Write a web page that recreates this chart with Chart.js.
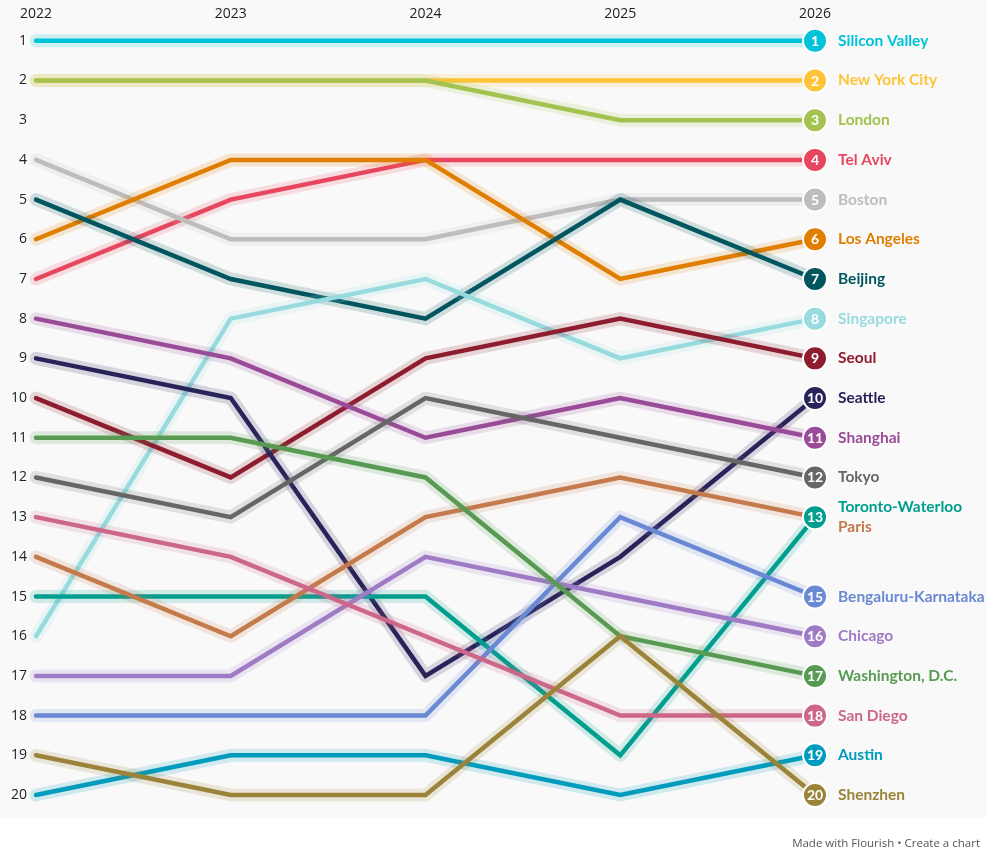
<!DOCTYPE html>
<html lang="en">
<head>
    <meta charset="UTF-8">
    <title>City rankings 2022-2026</title>
    <script src="https://cdn.jsdelivr.net/npm/chart.js"></script>
    <style>
        html, body {
            margin: 0;
            padding: 0;
            background-color: #fff;
            overflow: hidden;
        }

        .chart-wrap {
            position: relative;
            width: 996px;
            height: 852px;
        }

        .footer {
            position: absolute;
            right: 16px;
            top: 835px;
            font-family: 'Open Sans', sans-serif;
            font-size: 11.5px;
            color: #555;
        }
    </style>
</head>
<body>

    <div class="chart-wrap">
        <canvas id="bumpChart" width="996" height="852"></canvas>
        <div class="footer">Made with Flourish &bull; Create a chart</div>
    </div>

    <script>
        // Data
        var years = ['2022', '2023', '2024', '2025', '2026'];

        var cities = ['Silicon Valley', 'New York City', 'London', 'Tel Aviv', 'Boston',
            'Los Angeles', 'Beijing', 'Singapore', 'Seoul', 'Seattle', 'Shanghai', 'Tokyo',
            'Toronto-Waterloo', 'Paris', 'Bengaluru-Karnataka', 'Chicago', 'Washington, D.C.',
            'San Diego', 'Austin', 'Shenzhen'];

        var colors = ['#00c2d8', '#fdc43a', '#a4c250', '#e6475f', '#bdbdbd',
            '#e07e00', '#00555f', '#98dbde', '#8c1c2e', '#28245a', '#9a4b98', '#666666',
            '#009e8f', '#c57a4c', '#6a88d3', '#a07bc5', '#589a52',
            '#cc6789', '#009bbd', '#9c833a'];

        var rank2022 = [1, 2, 2, 7, 4, 6, 5, 16, 10, 9, 8, 12, 15, 14, 18, 17, 11, 13, 20, 19];
        var rank2023 = [1, 2, 2, 5, 6, 4, 7, 8, 12, 10, 9, 13, 15, 16, 18, 17, 11, 14, 19, 20];
        var rank2024 = [1, 2, 2, 4, 6, 4, 8, 7, 9, 17, 11, 10, 15, 13, 18, 14, 12, 16, 19, 20];
        var rank2025 = [1, 2, 3, 4, 5, 7, 5, 9, 8, 14, 10, 11, 19, 12, 13, 15, 16, 18, 20, 16];
        var rank2026 = [1, 2, 3, 4, 5, 6, 7, 8, 9, 10, 11, 12, 13, 13, 15, 16, 17, 18, 19, 20];

        var rankTicks = [1, 2, 3, 4, 5, 6, 7, 8, 9, 10, 11, 12, 13, 14, 15, 16, 17, 18, 19, 20];

        function hexToRgba(hex, a) {
            var r = parseInt(hex.substr(1, 2), 16);
            var g = parseInt(hex.substr(3, 2), 16);
            var b = parseInt(hex.substr(5, 2), 16);
            return 'rgba(' + r + ',' + g + ',' + b + ',' + a + ')';
        }

        // build datasets: a wide pale halo under each coloured line
        var datasets = [];
        var n = cities.length;
        for (var i = 0; i < n; i++) {
            var values = [rank2022[i], rank2023[i], rank2024[i], rank2025[i], rank2026[i]];
            datasets.push({
                label: cities[i] + ' halo',
                data: values,
                borderColor: hexToRgba(colors[i], 0.17),
                borderWidth: 13,
                borderCapStyle: 'round',
                borderJoinStyle: 'round',
                pointRadius: 0,
                tension: 0,
                clip: false,
                order: (n - i) * 2 + 1
            });
            datasets.push({
                label: cities[i],
                data: values,
                borderColor: colors[i],
                borderWidth: 4.5,
                borderCapStyle: 'round',
                borderJoinStyle: 'miter',
                pointRadius: 0,
                tension: 0,
                clip: false,
                order: (n - i) * 2
            });
        }

        // background panel behind the chart
        var panelPlugin = {
            id: 'panel',
            beforeDraw: function(chart) {
                var ctx = chart.ctx;
                ctx.save();
                ctx.fillStyle = '#f9f9f9';
                ctx.fillRect(0, 0, 987, 817);
                ctx.restore();
            }
        };

        // end circles with the final rank and the city names
        var endLabelPlugin = {
            id: 'endLabels',
            afterDatasetsDraw: function(chart) {
                var ctx = chart.ctx;
                var xScale = chart.scales.x;
                var yScale = chart.scales.y;
                var last = years.length - 1;
                var x = xScale.getPixelForValue(last);
                ctx.save();

                for (var i = n - 1; i >= 0; i--) {
                    var y = yScale.getPixelForValue(rank2026[i]);
                    ctx.beginPath();
                    ctx.arc(x, y, 12, 0, Math.PI * 2);
                    ctx.fillStyle = colors[i];
                    ctx.fill();
                    ctx.lineWidth = 2;
                    ctx.strokeStyle = '#ffffff';
                    ctx.stroke();

                    ctx.fillStyle = '#ffffff';
                    ctx.font = 'bold 14px Lato, sans-serif';
                    ctx.textAlign = 'center';
                    ctx.textBaseline = 'middle';
                    ctx.fillText(String(rank2026[i]), x, y + 0.5);
                }

                for (var j = 0; j < n; j++) {
                    var yy = yScale.getPixelForValue(rank2026[j]);
                    // shared rank: stack the names
                    var same = [];
                    for (var k = 0; k < n; k++) {
                        if (rank2026[k] === rank2026[j]) same.push(k);
                    }
                    if (same.length > 1) {
                        var pos = same.indexOf(j);
                        yy += (pos - (same.length - 1) / 2) * 20;
                    }
                    ctx.fillStyle = colors[j];
                    ctx.font = 'bold 15.5px Lato, sans-serif';
                    ctx.textAlign = 'left';
                    ctx.textBaseline = 'middle';
                    ctx.fillText(cities[j], x + 23, yy);
                }
                ctx.restore();
            }
        };

        var ctx = document.getElementById('bumpChart').getContext('2d');
        var bumpChart = new Chart(ctx, {
            type: 'line',
            data: {
                labels: years,
                datasets: datasets
            },
            options: {
                responsive: false,
                animation: false,
                layout: {
                    padding: { left: 2, right: 181, top: -12, bottom: 57 }
                },
                plugins: {
                    legend: { display: false },
                    tooltip: { enabled: false }
                },
                scales: {
                    x: {
                        type: 'category',
                        position: 'top',
                        offset: false,
                        grid: { display: false, drawTicks: false },
                        border: { display: false },
                        ticks: {
                            padding: 18,
                            color: '#222',
                            maxRotation: 0,
                            font: { family: "'Open Sans', sans-serif", size: 14 }
                        }
                    },
                    y: {
                        type: 'linear',
                        reverse: true,
                        min: 1,
                        max: 20,
                        afterBuildTicks: function(axis) {
                            axis.ticks = rankTicks.map(function(v) { return { value: v }; });
                        },
                        grid: { display: false, drawTicks: false },
                        border: { display: false },
                        ticks: {
                            padding: 9,
                            color: '#222',
                            font: { family: "'Open Sans', sans-serif", size: 14 }
                        }
                    }
                }
            },
            plugins: [panelPlugin, endLabelPlugin]
        });
    </script>
</body>
</html>
